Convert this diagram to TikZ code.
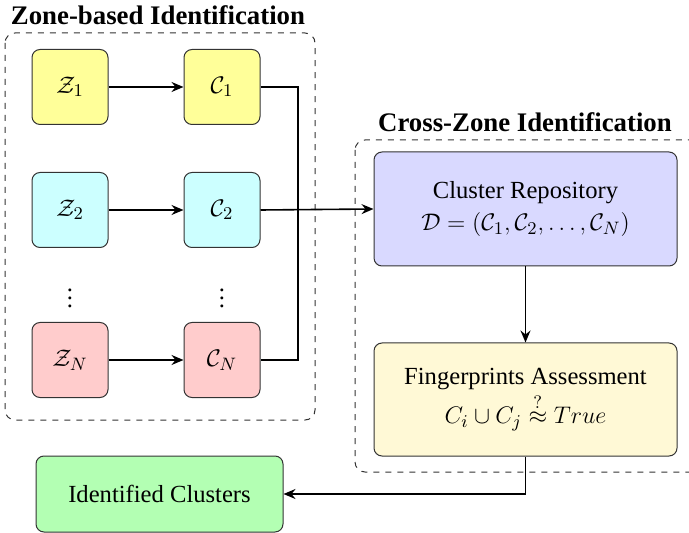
\documentclass[tikz,border=0pt]{standalone}
\usepackage{fontspec}
\setmainfont{Liberation Serif}
\usetikzlibrary{arrows.meta}
\definecolor{cY}{HTML}{FFFF99}
\definecolor{cC}{HTML}{CCFFFF}
\definecolor{cR}{HTML}{FFCCCC}
\definecolor{cB}{HTML}{D9D9FF}
\definecolor{cF}{HTML}{FFF9D6}
\definecolor{cG}{HTML}{B3FFB3}
\begin{document}
\begin{tikzpicture}[x=0.5pt,y=-0.5pt,
  font=\fontsize{12.3}{15}\selectfont,
  box/.style={draw=black!80,rounded corners=4pt,line width=0.5pt,inner sep=0pt,align=center},
  small/.style={box,minimum width=38pt,minimum height=37.5pt},
  big/.style={box,minimum width=151.5pt,minimum height=57pt},
  group/.style={draw=black!80,dashed,rounded corners=5pt,line width=0.5pt},
  conn/.style={line width=0.8pt},
  arr/.style={conn,-{Stealth[length=6pt,width=5pt,inset=2pt]}},
  ttl/.style={font=\fontsize{13.4}{16}\selectfont\bfseries}]
\useasboundingbox (0,0) rectangle (689,533);
\draw[group] (5,33) rectangle (315,420);
\draw[group] (355,140) rectangle (720,472);
\node[ttl] (t1) at (158,15) {Zone-based Identification};
\node[ttl] (t2) at (525,122) {Cross-Zone Identification};
\node[small,fill=cY] (Z1) at (70,87) {$\mathcal{Z}_1$};
\node[small,fill=cY] (C1) at (222,87) {$\mathcal{C}_1$};
\node[small,fill=cC] (Z2) at (70,210) {$\mathcal{Z}_2$};
\node[small,fill=cC] (C2) at (222,210) {$\mathcal{C}_2$};
\node (d1) at (70,292) {$\vdots$};
\node (d2) at (222,292) {$\vdots$};
\node[small,fill=cR] (ZN) at (70,360) {$\mathcal{Z}_N$};
\node[small,fill=cR] (CN) at (222,360) {$\mathcal{C}_N$};
\node[big,fill=cB] (R) at (525.5,209) {Cluster Repository\\[1pt]$\mathcal{D}=(\mathcal{C}_1,\mathcal{C}_2,\ldots,\mathcal{C}_N)$};
\node[big,fill=cF,minimum height=56.5pt] (F) at (525.5,399.5) {Fingerprints Assessment\\[1pt]$C_i\cup C_j \stackrel{?}{\approx} True$};
\node[box,fill=cG,minimum width=123.5pt,minimum height=38pt] (I) at (159.5,494) {Identified Clusters};
\coordinate (busT) at (298,87);
\draw[arr] (Z1) -- (C1);
\draw[arr] (Z2) -- (C2);
\draw[arr] (ZN) -- (CN);
\draw[conn] (C1.east) -- (busT) |- (CN.east);
\draw[arr] (C2.east) -- (R.west);
\draw[arr] (R) -- (F);
\draw[arr] (F.south) |- (I.east);
\end{tikzpicture}
\end{document}
